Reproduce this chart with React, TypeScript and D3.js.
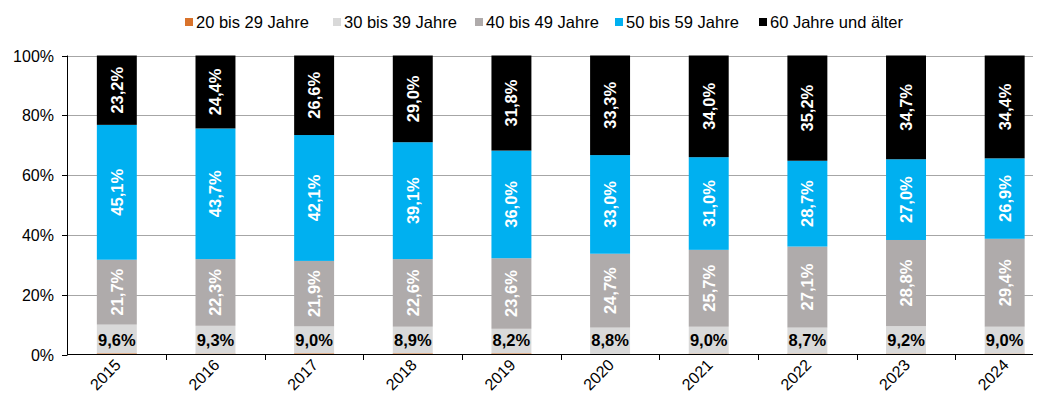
import { useEffect, useRef } from "react";
import * as d3 from "d3";

const years = ["2015", "2016", "2017", "2018", "2019", "2020", "2021", "2022", "2023", "2024"];
const series = ["20 bis 29 Jahre", "30 bis 39 Jahre", "40 bis 49 Jahre", "50 bis 59 Jahre", "60 Jahre und älter"];
const colors = ["#D9732B", "#D9D9D9", "#AFABAB", "#00B0F0", "#000000"];

const age20 = [0.4, 0.3, 0.4, 0.4, 0.4, 0.2, 0.3, 0.3, 0.3, 0.3];
const age30 = [9.6, 9.3, 9.0, 8.9, 8.2, 8.8, 9.0, 8.7, 9.2, 9.0];
const age40 = [21.7, 22.3, 21.9, 22.6, 23.6, 24.7, 25.7, 27.1, 28.8, 29.4];
const age50 = [45.1, 43.7, 42.1, 39.1, 36.0, 33.0, 31.0, 28.7, 27.0, 26.9];
const age60 = [23.2, 24.4, 26.6, 29.0, 31.8, 33.3, 34.0, 35.2, 34.7, 34.4];

const yTicks = [0, 20, 40, 60, 80, 100];

const fmt = (v: number) => v.toFixed(1).replace(".", ",") + "%";

export default function App() {
  const ref = useRef<SVGSVGElement>(null);

  useEffect(() => {
    if (!ref.current) return;
    const W = 1041;
    const svg = d3.select(ref.current);
    svg.selectAll("*").remove();
    const font = "'Liberation Sans', Arial, sans-serif";

    const x = d3.scaleBand<string>().domain(years).range([67.5, 1054]).paddingInner(0.595).paddingOuter(0.2975);
    const y = d3.scaleLinear().domain([0, 100]).range([354.5, 55.5]);

    // gridlines
    svg.append("g").selectAll("line")
      .data(yTicks.filter((t) => t > 0))
      .join("line")
      .attr("x1", 67).attr("x2", W)
      .attr("y1", (d) => Math.round(y(d)) + 0.5).attr("y2", (d) => Math.round(y(d)) + 0.5)
      .attr("stroke", "#A6A6A6").attr("stroke-width", 1);

    const rows = years.map((yr, i) => ({ yr, vals: [age20[i], age30[i], age40[i], age50[i], age60[i]] }));
    const stack = d3.stack<{ yr: string; vals: number[] }, number>()
      .keys([0, 1, 2, 3, 4])
      .value((d, k) => d.vals[k]);
    const stacked = stack(rows);
    // scale each column to 100%
    stacked.forEach((layer) => layer.forEach((p) => {
      const s = d3.sum(p.data.vals);
      p[0] = (p[0] / s) * 100;
      p[1] = (p[1] / s) * 100;
    }));

    const bars = svg.append("g");
    stacked.forEach((layer, si) => {
      bars.append("g").attr("fill", colors[si])
        .selectAll("rect")
        .data(layer)
        .join("rect")
        .attr("x", (d) => x(d.data.yr)!)
        .attr("width", x.bandwidth())
        .attr("y", (d) => y(d[1]))
        .attr("height", (d) => y(d[0]) - y(d[1]));
    });

    // value labels
    const lab = svg.append("g").attr("font-family", font).attr("font-weight", "bold").attr("font-size", 16.5);
    stacked.forEach((layer, si) => {
      if (si === 0) return;
      layer.forEach((d) => {
        const cx = x(d.data.yr)! + x.bandwidth() / 2;
        const v = d.data.vals[si];
        if (si === 1) {
          lab.append("text")
            .attr("x", cx).attr("y", y(d[0]) - 7.5)
            .attr("text-anchor", "middle")
            .attr("fill", "#000").text(fmt(v));
        } else {
          const cy = (y(d[0]) + y(d[1])) / 2;
          lab.append("text")
            .attr("transform", `translate(${cx + 6},${cy}) rotate(-90)`)
            .attr("text-anchor", "middle")
            .attr("fill", "#fff").text(fmt(v));
        }
      });
    });

    // y axis
    const ya = svg.append("g");
    ya.append("line").attr("x1", 67.5).attr("x2", 67.5).attr("y1", y(100)).attr("y2", y(0)).attr("stroke", "#000");
    ya.selectAll("line.t").data(yTicks).join("line").attr("class", "t")
      .attr("x1", 62).attr("x2", 67.5)
      .attr("y1", (d) => Math.round(y(d)) + 0.5).attr("y2", (d) => Math.round(y(d)) + 0.5)
      .attr("stroke", "#000");
    ya.selectAll("text").data(yTicks).join("text")
      .attr("x", 54).attr("y", (d) => y(d) + 6)
      .attr("text-anchor", "end")
      .attr("font-family", font).attr("font-size", 16).attr("fill", "#000")
      .text((d) => d + "%");

    // x axis
    const xa = svg.append("g");
    xa.append("line").attr("x1", 67).attr("x2", W).attr("y1", 354.5).attr("y2", 354.5).attr("stroke", "#000");
    const step = x.step();
    xa.selectAll("line.t").data(years).join("line").attr("class", "t")
      .attr("x1", (d) => Math.round(x(d)! + x.bandwidth() / 2 + step / 2) + 0.5)
      .attr("x2", (d) => Math.round(x(d)! + x.bandwidth() / 2 + step / 2) + 0.5)
      .attr("y1", 354.5).attr("y2", 360).attr("stroke", "#000");
    xa.selectAll("text").data(years).join("text")
      .attr("transform", (d) => `translate(${x(d)! + x.bandwidth() / 2 + 5},${366}) rotate(-45)`)
      .attr("text-anchor", "end")
      .attr("font-family", font).attr("font-size", 16).attr("fill", "#000")
      .text((d) => d);

    // legend
    const legX = [185, 333, 475, 615, 759];
    const lg = svg.append("g").attr("font-family", font).attr("font-size", 16.5);
    series.forEach((s, i) => {
      lg.append("rect").attr("x", legX[i]).attr("y", 18).attr("width", 8).attr("height", 8).attr("fill", colors[i]);
      lg.append("text").attr("x", legX[i] + 11).attr("y", 27.5).attr("fill", "#000").text(s);
    });
  }, []);

  return (
    <div style={{ margin: -8 }}>
      <svg ref={ref} width={1041} height={401} style={{ display: "block", background: "#fff" }} />
    </div>
  );
}
